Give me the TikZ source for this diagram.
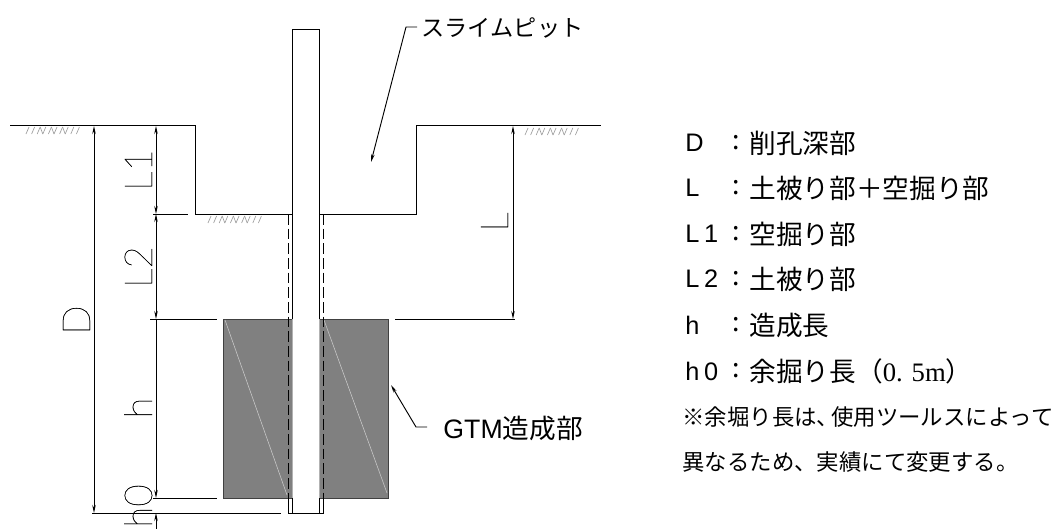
\documentclass[tikz,border=0pt]{standalone}
\usepackage{fontspec}
\setmainfont{Noto Sans CJK JP}
\newfontfamily\latinfont{Liberation Sans}
\newfontfamily\legendfont[LetterSpace=18]{Liberation Sans}
\newfontfamily\seriffont{Liberation Serif}
\newfontfamily\cadfont[FakeBold=0.4]{Lato Thin}
\usepackage{tikz}
\usetikzlibrary{arrows.meta}
\definecolor{blockgray}{rgb}{0.5,0.5,0.5}
\definecolor{hatchgray}{rgb}{0.62,0.62,0.62}

\begin{document}
\begin{tikzpicture}[x=0.75pt, y=-0.75pt, >={Stealth[length=6pt,width=2.6pt]},
    line width=0.7pt,
    dimtext/.style = {inner sep=0, rotate=90, anchor=base, font=\cadfont\fontsize{29}{29}\selectfont},
    legend/.style = {inner sep=0, anchor=west, font=\fontsize{20}{20}\selectfont},
    remark/.style = {inner sep=0, anchor=west, font=\fontsize{16.8}{16.8}\selectfont},
    callout/.style = {inner sep=0, anchor=west, font=\fontsize{17.4}{17.4}\selectfont},
    hatch/.style = {hatchgray, line width=0.5pt}
    ]
    \useasboundingbox (0,0) rectangle (1057,529);

    % ground and pit
    \coordinate (gl) at (10,125.5);
    \coordinate (pl) at (195,125.5);
    \coordinate (pbl) at (195,214);
    \coordinate (pbr) at (416,214);
    \coordinate (pr) at (416,125.5);
    \coordinate (gr) at (601,125.5);
    \draw (gl) -- (pl) -- (pbl) -- (pbr) -- (pr) -- (gr);

    % ground hatching
    \foreach \hx/\hy in {26/127, 208/216, 525/128} {
      \foreach \i in {0,...,9}
        \draw[hatch] (\hx+\i*5.6,\hy+7) -- (\hx+\i*5.6+3,\hy);
      \foreach \i in {2,4,6}
        \draw[hatch] (\hx+\i*5.6+3,\hy) -- (\hx+\i*5.6+5.6,\hy+7);
    }

    % block
    \node[draw=black!75, fill=blockgray, minimum width=123.75pt, minimum height=134.25pt,
      inner sep=0, anchor=north west] (block) at (223,319) {};
    \draw[white!60!gray, line width=0.4pt] (225,320) -- (287,495);
    \draw[white!60!gray, line width=0.4pt] (324,320) -- (387,493);

    % rod and casing
    \node[draw, fill=white, minimum width=20.25pt, minimum height=363pt,
      inner sep=0, anchor=north west] (rod) at (292,29) {};
    \draw[black!30] (292,319) -- (292,498);
    \draw[black!30] (319,319) -- (319,498);
    \draw[dash pattern=on 8pt off 3pt] (288,214) -- (288,498);
    \draw[dash pattern=on 8pt off 3pt] (323,214) -- (323,498);
    \draw (288,498) -- (288,513) -- (323,513) -- (323,498);

    % extension lines
    \draw (153,214) -- (188,214);
    \draw (150,319) -- (217,319);
    \draw (395,319) -- (515,319);
    \draw (153,498) -- (217,498);
    \draw (92,513) -- (281,513);

    % dimensions
    \draw[<->] (94,126) -- (94,513);
    \draw[<->] (156,126) -- (156,214);
    \draw[<->] (156,214) -- (156,319);
    \draw[<->] (513,126) -- (513,319);
    \draw[<-] (156,498) -- (156,319);
    \draw[<-] (156,513) -- (156,529);

    \node[dimtext] (dimD) at (90,320) {D};
    \node[dimtext] (dimLa) at (152,170) {L1};
    \node[dimtext] (dimLb) at (152,267) {L2};
    \node[dimtext] (dimL) at (508,222) {L};
    \node[dimtext] (dimh) at (152,408) {h};
    \node[dimtext] (dimh0) at (152,506) {h0};

    % callouts
    \node[callout] (pit) at (421,28) {スライムピット};
    \coordinate (pita) at (406,27);
    \coordinate (pitb) at (417,27);
    \draw[<-] (371,162) -- (pita) -- (pitb);
    \node[callout, font=\fontsize{20}{20}\selectfont] (gtm) at (443,428) {{\latinfont GTM}造成部};
    \coordinate (gtma) at (416,427);
    \coordinate (gtmb) at (427,427);
    \draw[<-] (391,385) -- (gtma) -- (gtmb);

    % legend
    \foreach \lab/\txt/\ly in {D/削孔深部/143, L/土被り部＋空掘り部/188, L1/空掘り部/234, L2/土被り部/279, h/造成長/325} {
      \node[legend, font=\fontsize{19}{19}\selectfont] at (685,\ly) {{\legendfont \lab}};
      \node[legend] at (732,\ly) {:};
      \node[legend] at (749,\ly) {\txt};
    }
    \node[legend, font=\fontsize{19}{19}\selectfont] (h0lab) at (685,371) {{\legendfont h0}};
    \node[legend] (h0col) at (732,371) {:};
    \node[legend] (h0txt) at (749,371) {余掘り長（{\seriffont 0. 5m}）};
    \node[remark] (remarka) at (682,417) {※余堀り長は、\kern-6pt 使用ツールスによって};
    \node[remark] (remarkb) at (682,462) {異なるため、実績にて変更する。};
\end{tikzpicture}
\end{document}
